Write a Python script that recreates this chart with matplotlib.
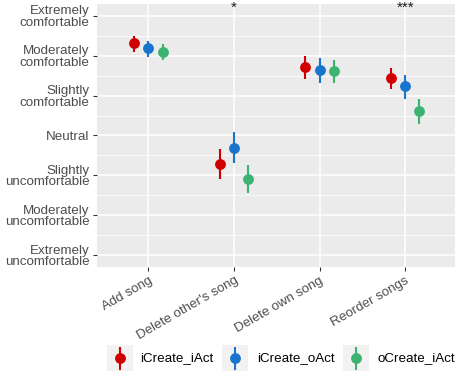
import numpy as np
import matplotlib.pyplot as plt
from matplotlib.patches import Rectangle
from matplotlib.lines import Line2D

plt.rcParams["font.family"] = ["Liberation Sans", "DejaVu Sans"]

# ---- data ----
actions = ["Add song", "Delete other's song", "Delete own song", "Reorder songs"]
groups = ["iCreate_iAct", "iCreate_oAct", "oCreate_iAct"]
colors = ["#D00000", "#1874CD", "#3CB371"]

mean_icreate_iact = [6.31, 3.28, 5.72, 5.45]
lo_icreate_iact = [6.10, 2.90, 5.41, 5.17]
hi_icreate_iact = [6.50, 3.65, 5.99, 5.70]

mean_icreate_oact = [6.19, 3.69, 5.65, 5.23]
lo_icreate_oact = [5.98, 3.30, 5.31, 4.91]
hi_icreate_oact = [6.38, 4.08, 5.94, 5.51]

mean_ocreate_iact = [6.10, 2.91, 5.62, 4.62]
lo_ocreate_iact = [5.89, 2.55, 5.32, 4.29]
hi_ocreate_iact = [6.30, 3.27, 5.89, 4.91]

signif = ["", "*", "", "***"]

levels = ["Extremely\nuncomfortable", "Moderately\nuncomfortable", "Slightly\nuncomfortable",
          "Neutral", "Slightly\ncomfortable", "Moderately\ncomfortable", "Extremely\ncomfortable"]

means = [mean_icreate_iact, mean_icreate_oact, mean_ocreate_iact]
los = [lo_icreate_iact, lo_icreate_oact, lo_ocreate_iact]
his = [hi_icreate_iact, hi_icreate_oact, hi_ocreate_iact]

W, H = 455, 376
fig = plt.figure(figsize=(W / 100, H / 100), dpi=100)
ax = fig.add_axes([97 / W, 1 - 267 / H, (456.6 - 97) / W, (267 - 4) / H])
ax.set_facecolor("#EBEBEB")
for s in ax.spines.values():
    s.set_visible(False)

x = np.arange(1, len(actions) + 1)
offsets = [-1 / 6, 0, 1 / 6]
for g in range(len(groups)):
    xs = x + offsets[g]
    m = np.array(means[g])
    ax.vlines(xs, los[g], his[g], color=colors[g], lw=1.5, zorder=3)
    ax.plot(xs, m, "o", color=colors[g], ms=7.8, mec="none", zorder=4)

for i, s in enumerate(signif):
    if s:
        ax.text(x[i], 7.2, s, ha="center", va="center", fontsize=11, color="#1A1A1A")

ax.set_xlim(0.4, 4.6)
ax.set_ylim(0.7, 7.3)
ax.set_xticks(x)
ax.set_xticklabels(actions, rotation=30, ha="right", va="top", rotation_mode="anchor")
ax.set_yticks(np.arange(1, 8))
ax.set_yticklabels(levels, linespacing=0.95)
ax.set_yticks(np.arange(1.5, 7.5, 1), minor=True)
ax.tick_params(axis="both", which="major", length=2.9, width=0.8, color="#333333",
               labelcolor="#4D4D4D", labelsize=9.6, pad=2.5)
ax.tick_params(axis="y", which="minor", length=0)
ax.grid(True, which="major", color="white", lw=1.1, zorder=0)
ax.grid(True, which="minor", axis="y", color="white", lw=0.55, zorder=0)
ax.set_axisbelow(True)

# ---- legend drawn ggplot-style at the bottom ----
key_x = [107, 222, 343]
text_x = [140, 257, 377]
yc = 358
for g in range(len(groups)):
    fig.patches.append(Rectangle((key_x[g] / W, 1 - 371 / H), 26 / W, 26 / H,
                                 transform=fig.transFigure, facecolor="#F2F2F2", edgecolor="none"))
    cx = (key_x[g] + 13) / W
    fig.add_artist(Line2D([cx, cx], [1 - 348 / H, 1 - 369 / H], color=colors[g], lw=1.5))
    fig.add_artist(Line2D([cx], [1 - yc / H], marker="o", ms=7.8, color=colors[g], mec="none"))
    fig.text(text_x[g] / W, 1 - yc / H, groups[g], ha="left", va="center", fontsize=9.6, color="black")

fig.savefig("out.png", dpi=100)
